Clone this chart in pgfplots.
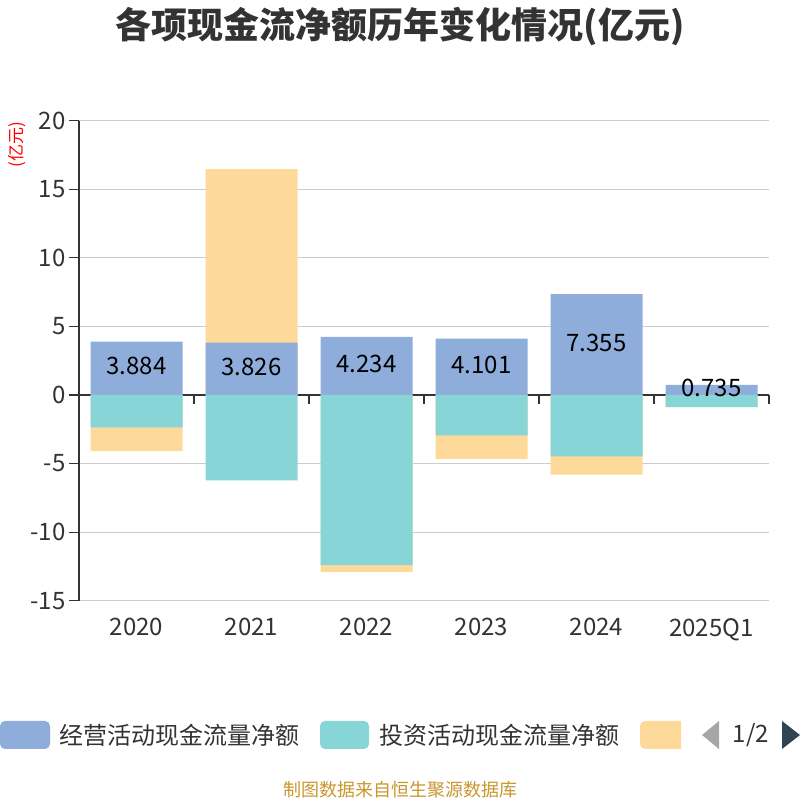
\documentclass[border=0pt]{standalone}
\usepackage{fontspec}
\setmainfont{Noto Sans CJK SC}
\usepackage{pgfplots}
\pgfplotsset{compat=1.18}
\definecolor{cop}{HTML}{8FADDB}
\definecolor{cinv}{HTML}{88D5D8}
\definecolor{cfin}{HTML}{FDD99A}
\definecolor{txt}{HTML}{333333}
\definecolor{gridc}{HTML}{CCCCCC}
\definecolor{foot}{HTML}{C9962E}
\definecolor{pgdark}{HTML}{2F4554}
\begin{document}
\begin{tikzpicture}[x=1pt,y=1pt]
\useasboundingbox (0,0) rectangle (800,800);
\begin{axis}[
  at={(79pt,199.3pt)}, anchor=south west,
  width=690pt, height=480pt, scale only axis,
  xmin=-0.5, xmax=5.5, ymin=-15, ymax=20,
  ybar, bar width=0.8,
  /pgf/number format/assume math mode=true,
  axis y line=left, axis x line=bottom,
  axis line style={-},
  y axis line style={txt, line width=1.2pt},
  x axis line style={draw=none},
  ytick={-15,-10,...,20},
  ytick align=outside, major tick length=10pt,
  ytick style={txt, line width=1.2pt},
  xtick={0,...,5},
  xticklabels={2020,2021,2022,2023,2024,2025Q1},
  xtick style={draw=none},
  ymajorgrids, grid style={gridc, line width=1pt},
  extra y ticks={0}, extra y tick labels={},
  extra y tick style={grid=major, grid style={txt, line width=1.2pt}},
  yticklabel style={font=\fontsize{24}{28}\selectfont, text=txt},
  xticklabel style={font=\fontsize{24}{28}\selectfont, text=txt, yshift=-9pt},
  clip=false,
]
\addplot[fill=cfin, draw=none, bar shift=0pt] coordinates {(0,-4.09) (1,16.47) (2,-12.89) (3,-4.67) (4,-5.81) (5,-0.88)};
\addplot[fill=cop, draw=none, bar shift=0pt,
  visualization depends on={y \as \rawy},
  nodes near coords,
  nodes near coords style={/pgf/number format/fixed, /pgf/number format/fixed zerofill, /pgf/number format/precision=3, /pgf/number format/assume math mode=true},
  every node near coord/.append style={anchor=center, shift={(axis direction cs:0,-\rawy/2)}, yshift=2pt, font=\fontsize{24}{28}\selectfont, text=black}]
  coordinates {(0,3.884) (1,3.826) (2,4.234) (3,4.101) (4,7.355) (5,0.735)};
\addplot[fill=cinv, draw=none, bar shift=0pt] coordinates {(0,-2.36) (1,-6.23) (2,-12.41) (3,-2.94) (4,-4.47) (5,-0.88)};
\pgfplotsinvokeforeach{0.5,1.5,2.5,3.5,4.5,5.5}{
  \draw[txt, line width=1.2pt] (axis cs:#1,0) -- ([yshift=-9pt]axis cs:#1,0);
}
\end{axis}
\node[font=\bfseries\fontsize{36}{42}\selectfont, text=txt] at (400,773) {各项现金流净额历年变化情况(亿元)};
\node[rotate=90, text=red, font=\fontsize{17}{20}\selectfont] at (17,655) {(亿元)};
\fill[cop, rounded corners=5pt] (0,51) rectangle (50,79);
\node[anchor=west, font=\fontsize{24}{28}\selectfont, text=txt] at (56,65) {经营活动现金流量净额};
\fill[cinv, rounded corners=5pt] (320,51) rectangle (369,79);
\node[anchor=west, font=\fontsize{24}{28}\selectfont, text=txt] at (376,65) {投资活动现金流量净额};
\begin{scope}
\clip (630,40) rectangle (681,90);
\fill[cfin, rounded corners=5pt] (640,51) rectangle (690,79);
\end{scope}
\fill[gray!70] (702,65) -- (719,79) -- (719,51) -- cycle;
\node[font=\fontsize{24}{28}\selectfont, text=txt] at (751,65) {1/2};
\fill[pgdark] (782,79) -- (800,65) -- (782,51) -- cycle;
\node[font=\fontsize{18}{22}\selectfont, text=foot] at (400,10) {制图数据来自恒生聚源数据库};
\end{tikzpicture}
\end{document}
